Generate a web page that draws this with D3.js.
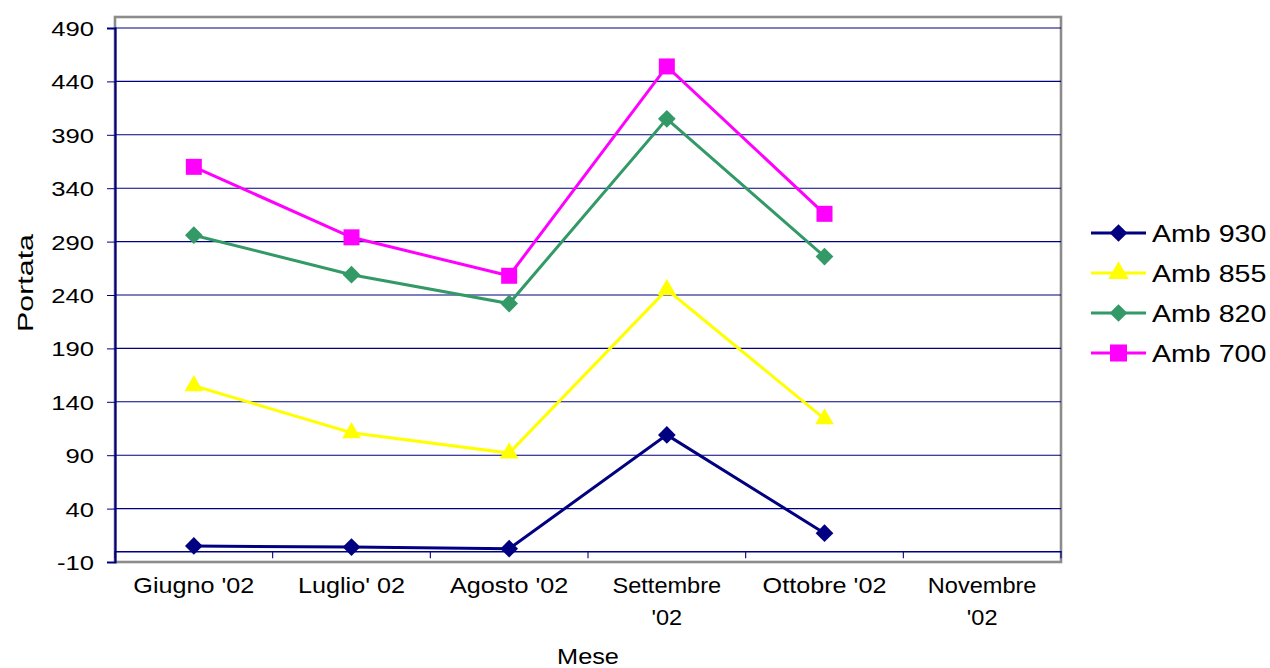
<!DOCTYPE html>
<html>
<head>
<meta charset="utf-8">
<script src="https://cdn.jsdelivr.net/npm/d3@7"></script>
<style>
  html, body { margin: 0; padding: 0; background: #fff; }
  svg { display: block; }
  text { font-family: "Liberation Sans", Arial, sans-serif; fill: #000; }
</style>
</head>
<body>
<svg id="chart" width="1270" height="668"></svg>
<script>
// Monthly flow ("Portata") per environment, June–November 2002
const categories = ["Giugno '02", "Luglio' 02", "Agosto '02", "Settembre '02", "Ottobre '02", "Novembre '02"];
const seriesNames = ["Amb 930", "Amb 855", "Amb 820", "Amb 700"];
const amb930 = [5, 4, 2.5, 109, 17, null];
const amb855 = [155, 111, 92, 245, 124, null];
const amb820 = [296, 259, 232, 405, 276, null];
const amb700 = [360, 294, 258, 454, 316, null];
const yTicks = [-10, 40, 90, 140, 190, 240, 290, 340, 390, 440, 490];

const seriesValues = [amb930, amb855, amb820, amb700];
const colors = ["#000080", "#FFFF00", "#339966", "#FF00FF"];
const shapes = [d3.symbolDiamond2, d3.symbolTriangle, d3.symbolDiamond2, d3.symbolSquare];

const svg = d3.select("#chart");
const plotLeft = 115, plotRight = 1061, plotTop = 17, plotBottom = 562;

const x = d3.scaleBand().domain(categories).range([plotLeft, plotRight]).padding(0);
const y = d3.scaleLinear().domain([-10, 490]).range([plotBottom, 28]);

// widen text horizontally the way the original rendering does
function stretch(sel, k) {
  sel.each(function () {
    const len = this.getComputedTextLength();
    if (len > 0) {
      d3.select(this).attr("textLength", len * k).attr("lengthAdjust", "spacingAndGlyphs");
    }
  });
}

// plot frame (grey)
svg.append("rect")
  .attr("x", plotLeft).attr("y", plotTop)
  .attr("width", plotRight - plotLeft).attr("height", plotBottom - plotTop)
  .attr("fill", "#fff").attr("stroke", "#8c8c8c").attr("stroke-width", 2.6);

// horizontal gridlines
svg.append("g").selectAll("line")
  .data(yTicks.filter(v => v > -10))
  .join("line")
  .attr("x1", plotLeft).attr("x2", plotRight)
  .attr("y1", d => y(d)).attr("y2", d => y(d))
  .attr("stroke", "#000080").attr("stroke-width", 1.1);

// value axis
const yAxis = d3.axisLeft(y).tickValues(yTicks).tickSize(8).tickPadding(13).tickFormat(d => String(d));
const gy = svg.append("g").attr("transform", `translate(${plotLeft},0)`).call(yAxis);
gy.select(".domain").attr("stroke", "#000080").attr("stroke-width", 2.2);
gy.selectAll(".tick line").attr("stroke", "#000080").attr("stroke-width", 1);
gy.selectAll(".tick text").attr("font-size", 21).attr("font-family", "Liberation Sans, Arial, sans-serif").attr("fill", "#000").attr("dy", "0.36em");
stretch(gy.selectAll(".tick text"), 1.22);

// category axis, crossing at zero
const gx = svg.append("g").attr("transform", `translate(0,${y(0)})`)
  .call(d3.axisBottom(x).tickSize(0).tickFormat(""));
gx.select(".domain").attr("stroke", "#000080").attr("stroke-width", 1.6);
gx.selectAll(".tick").remove();
const bounds = categories.map(c => x(c)).concat([plotRight]);
gx.selectAll("line.bound")
  .data(bounds)
  .join("line")
  .attr("class", "bound")
  .attr("x1", d => d).attr("x2", d => d)
  .attr("y1", 0).attr("y2", 7)
  .attr("stroke", "#000080").attr("stroke-width", 1.1);

// category labels, wrapped onto two lines when too wide
const catLabels = svg.append("g").selectAll("text")
  .data(categories)
  .join("text")
  .attr("x", d => x(d) + x.bandwidth() / 2)
  .attr("y", 593)
  .attr("text-anchor", "middle")
  .attr("font-size", 22);
catLabels.each(function (d) {
  const t = d3.select(this);
  t.text(d);
  if (this.getComputedTextLength() * 1.15 > 140) {
    const i = d.lastIndexOf(" ");
    const parts = [d.slice(0, i), d.slice(i + 1)];
    t.text(null);
    parts.forEach((p, k) => {
      t.append("tspan")
        .attr("x", x(d) + x.bandwidth() / 2)
        .attr("dy", k === 0 ? 0 : 32)
        .text(p);
    });
  }
});
catLabels.each(function () {
  const t = d3.select(this);
  if (t.selectAll("tspan").empty()) {
    stretch(t, 1.145);
  } else {
    stretch(t.selectAll("tspan"), 1.07);
  }
});

// axis titles
const mese = svg.append("text")
  .attr("x", (plotLeft + plotRight) / 2).attr("y", 664)
  .attr("text-anchor", "middle").attr("font-size", 22).text("Mese");
stretch(mese, 1.15);
const portata = svg.append("text")
  .attr("transform", "translate(33,283) rotate(-90)")
  .attr("text-anchor", "middle").attr("font-size", 22).text("Portata");
stretch(portata, 1.38);

// series lines and markers
const line = d3.line()
  .defined(d => d.v !== null)
  .x(d => x(d.c) + x.bandwidth() / 2)
  .y(d => y(d.v));

seriesValues.forEach((vals, i) => {
  const pts = vals.map((v, j) => ({ c: categories[j], v }));
  const g = svg.append("g");
  g.append("path")
    .datum(pts)
    .attr("d", line)
    .attr("fill", "none")
    .attr("stroke", colors[i])
    .attr("stroke-width", 3);
  const size = shapes[i] === d3.symbolSquare ? 256 : shapes[i] === d3.symbolTriangle ? 150 : 200;
  g.selectAll("path.m")
    .data(pts.filter(p => p.v !== null))
    .join("path")
    .attr("class", "m")
    .attr("transform", p => `translate(${x(p.c) + x.bandwidth() / 2},${y(p.v)})`)
    .attr("d", d3.symbol().type(shapes[i]).size(size))
    .attr("fill", colors[i]);
});

// legend
const legend = svg.append("g");
const legendY = d3.scalePoint().domain(seriesNames).range([233, 353]);
seriesNames.forEach((name, i) => {
  const ly = legendY(name);
  legend.append("line")
    .attr("x1", 1091).attr("x2", 1146)
    .attr("y1", ly).attr("y2", ly)
    .attr("stroke", colors[i]).attr("stroke-width", 3);
  const size = shapes[i] === d3.symbolSquare ? 289 : shapes[i] === d3.symbolTriangle ? 180 : 200;
  legend.append("path")
    .attr("transform", `translate(1118.5,${ly})`)
    .attr("d", d3.symbol().type(shapes[i]).size(size))
    .attr("fill", colors[i]);
  const t = legend.append("text")
    .attr("x", 1152).attr("y", ly).attr("dy", "0.36em")
    .attr("font-size", 24).text(name);
  stretch(t, 1.19);
});
</script>
</body>
</html>
